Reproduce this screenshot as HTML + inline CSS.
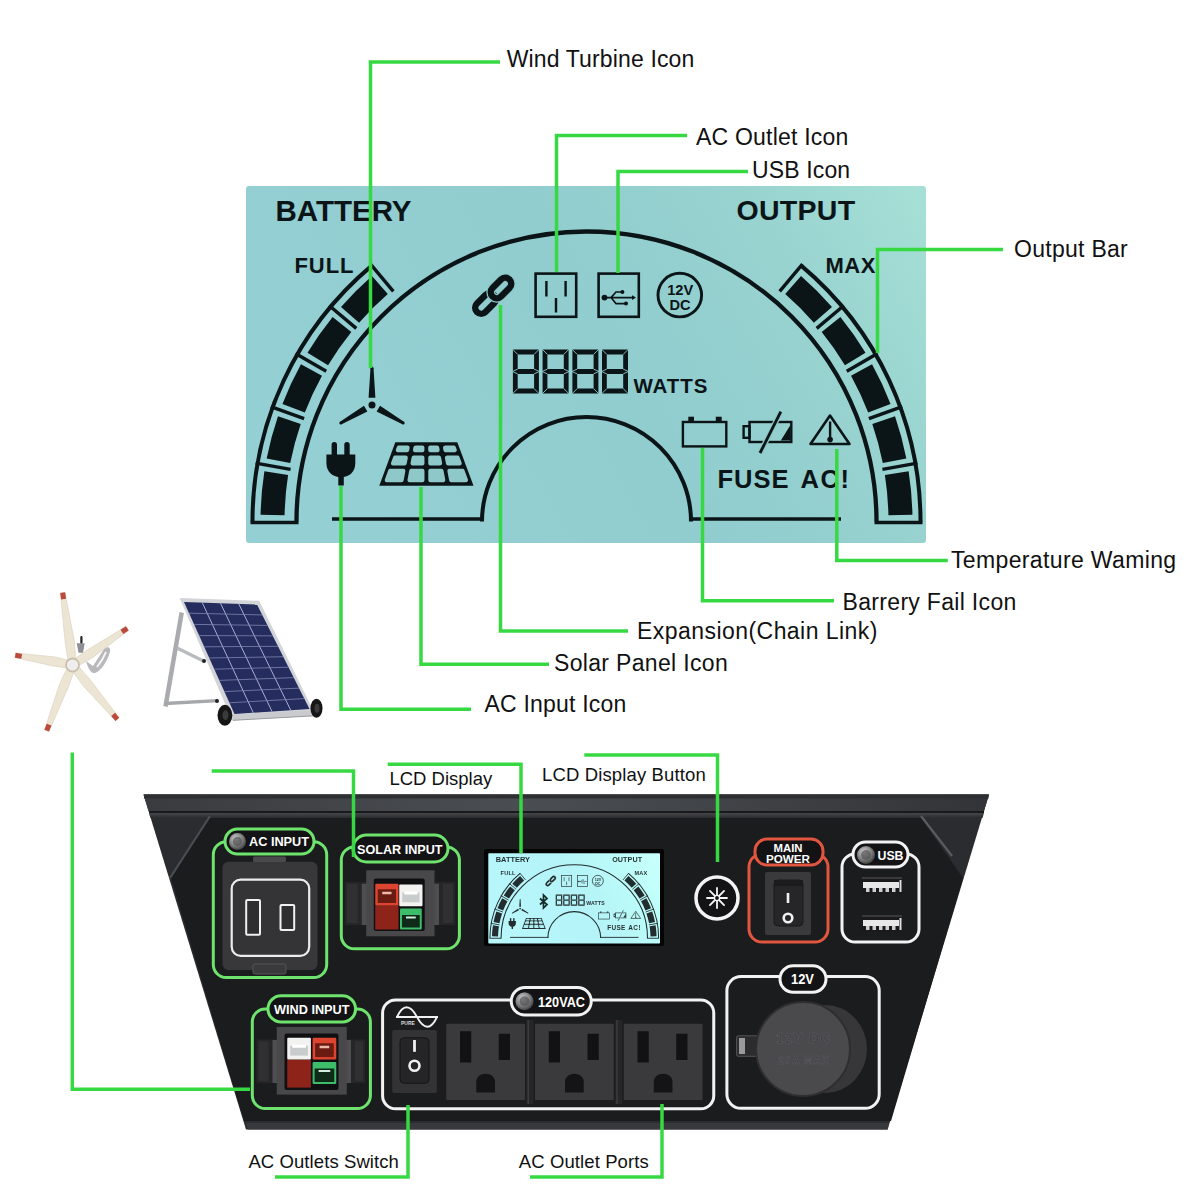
<!DOCTYPE html><html><head><meta charset="utf-8"><style>html,body{margin:0;padding:0;background:#fff;width:1200px;height:1200px;overflow:hidden}svg{display:block}</style></head><body><svg width="1200" height="1200" viewBox="0 0 1200 1200"><defs><g id="lcd"><linearGradient id="lcdg" x1="0" y1="0.3" x2="1" y2="0"><stop offset="0" stop-color="#94cfd3"/><stop offset="0.45" stop-color="#91cccf"/><stop offset="0.75" stop-color="#98d3d0"/><stop offset="1" stop-color="#a6e0d6"/></linearGradient><rect x="246" y="186" width="680" height="357" rx="3" fill="url(#lcdg)"/><g font-family='"Liberation Sans", sans-serif' font-weight="bold" fill="#0b1416"><text x="275.5" y="221" font-size="29.5">BATTERY</text><text x="736.5" y="219.5" font-size="28.5" letter-spacing="0.3">OUTPUT</text><text x="294.5" y="273.3" font-size="22" letter-spacing="0.9">FULL</text><text x="825.5" y="273.3" font-size="22" letter-spacing="0.5">MAX</text><text x="717.5" y="488.3" font-size="25.5" letter-spacing="1">FUSE</text><text x="800.5" y="488.3" font-size="25.5" letter-spacing="1.6">AC!</text><text x="633.5" y="392.5" font-size="20.5" letter-spacing="0.9">WATTS</text></g><path d="M296.5 521.5 A290 290 0 0 1 876.5 521.5" fill="none" stroke="#0b1416" stroke-width="4.3"/><path d="M482 521.5 A104.5 104.5 0 0 1 691 521.5" fill="none" stroke="#0b1416" stroke-width="4"/><path d="M332 519H484M690 519H841" stroke="#0b1416" stroke-width="3.6"/><path d="M252.5 521.5 A334 334 0 0 1 371.81 265.64" fill="none" stroke="#0b1416" stroke-width="4"/><path d="M250.5 522.5 L298.5 522.5" stroke="#0b1416" stroke-width="3.6"/><path d="M255.6 463.15 L290.57 469.32" stroke="#0b1416" stroke-width="3.4"/><path d="M270.76 406.58 L304.12 418.72" stroke="#0b1416" stroke-width="3.4"/><path d="M295.52 353.5 L326.26 371.25" stroke="#0b1416" stroke-width="3.4"/><path d="M329.11 305.52 L356.3 328.34" stroke="#0b1416" stroke-width="3.4"/><path d="M370.52 264.11 L393.34 291.3" stroke="#0b1416" stroke-width="3.4"/><path d="M260.57 514.67 A326 326 0 0 1 264.38 471.35 L288.1 475.04 A302 302 0 0 0 284.57 515.18Z" fill="#0b1416"/><path d="M266.65 458.46 A326 326 0 0 1 277.98 416.17 L300.7 423.93 A302 302 0 0 0 290.2 463.1Z" fill="#0b1416"/><path d="M282.46 403.88 A326 326 0 0 1 300.96 364.2 L321.98 375.78 A302 302 0 0 0 304.84 412.54Z" fill="#0b1416"/><path d="M307.5 352.87 A326 326 0 0 1 332.61 317.01 L351.31 332.06 A302 302 0 0 0 328.04 365.28Z" fill="#0b1416"/><path d="M341.03 306.98 A326 326 0 0 1 371.98 276.03 L387.77 294.1 A302 302 0 0 0 359.1 322.77Z" fill="#0b1416"/><path d="M920.5 521.5 A334 334 0 0 0 801.19 265.64" fill="none" stroke="#0b1416" stroke-width="4"/><path d="M922.5 522.5 L874.5 522.5" stroke="#0b1416" stroke-width="3.6"/><path d="M917.4 463.15 L882.43 469.32" stroke="#0b1416" stroke-width="3.4"/><path d="M902.24 406.58 L868.88 418.72" stroke="#0b1416" stroke-width="3.4"/><path d="M877.48 353.5 L846.74 371.25" stroke="#0b1416" stroke-width="3.4"/><path d="M843.89 305.52 L816.7 328.34" stroke="#0b1416" stroke-width="3.4"/><path d="M802.48 264.11 L779.66 291.3" stroke="#0b1416" stroke-width="3.4"/><path d="M912.43 514.67 A326 326 0 0 0 908.62 471.35 L884.9 475.04 A302 302 0 0 1 888.43 515.18Z" fill="#0b1416"/><path d="M906.35 458.46 A326 326 0 0 0 895.02 416.17 L872.3 423.93 A302 302 0 0 1 882.8 463.1Z" fill="#0b1416"/><path d="M890.54 403.88 A326 326 0 0 0 872.04 364.2 L851.02 375.78 A302 302 0 0 1 868.16 412.54Z" fill="#0b1416"/><path d="M865.5 352.87 A326 326 0 0 0 840.39 317.01 L821.69 332.06 A302 302 0 0 1 844.96 365.28Z" fill="#0b1416"/><path d="M831.97 306.98 A326 326 0 0 0 801.02 276.03 L785.23 294.1 A302 302 0 0 1 813.9 322.77Z" fill="#0b1416"/><g fill="#0b1416"><polygon points="375.4,397.7 373.5,368 370.5,368 368.6,397.7"/><circle cx="372" cy="368" r="1.5"/><polygon points="363.98,405.71 340.07,421.7 341.57,424.3 367.38,411.59"/><circle cx="340.82" cy="423" r="1.5"/><polygon points="376.62,411.59 402.43,424.3 403.93,421.7 380.02,405.71"/><circle cx="403.18" cy="423" r="1.5"/><circle cx="372" cy="405" r="3.5"/></g><g fill="#0b1416"><rect x="331.6" y="442" width="5.4" height="16" rx="2.7"/><rect x="344.3" y="442" width="5.4" height="16" rx="2.7"/><path d="M326.4 454.5H355.3V463C355.3 472 349 476.5 343.8 477V485.5H338.3V477C333 476.5 326.4 472 326.4 463Z"/></g><path d="M395.3 442.3H457.3L473.5 485.7H379.3Z" fill="#0b1416"/><g fill="#8ec8c9" stroke="#8ec8c9" stroke-width="4" stroke-linejoin="round"><polygon points="398.75,447.6 407.63,447.6 407.15,450.2 397.79,450.2"/><polygon points="415.43,447.6 422.41,447.6 422.42,450.2 414.95,450.2"/><polygon points="430.21,447.6 437.2,447.6 437.68,450.2 430.22,450.2"/><polygon points="445,447.6 453.88,447.6 454.85,450.2 445.48,450.2"/><polygon points="395.06,457.6 405.8,457.6 404.73,463.4 392.92,463.4"/><polygon points="413.6,457.6 422.44,457.6 422.45,463.4 412.53,463.4"/><polygon points="430.24,457.6 439.07,457.6 440.16,463.4 430.25,463.4"/><polygon points="446.87,457.6 457.61,457.6 459.78,463.4 447.96,463.4"/><polygon points="390.19,470.8 403.38,470.8 401.66,480.2 386.73,480.2"/><polygon points="411.18,470.8 422.47,470.8 422.49,480.2 409.46,480.2"/><polygon points="430.27,470.8 441.55,470.8 443.32,480.2 430.29,480.2"/><polygon points="449.35,470.8 462.54,470.8 466.05,480.2 451.12,480.2"/></g><g fill="none" transform="rotate(-45 495 294)"><rect x="469.5" y="288" width="24" height="12" rx="6" stroke="#0b1416" stroke-width="6.5"/><rect x="491.5" y="288" width="24" height="12" rx="6" stroke="#8ec8c9" stroke-width="9"/><rect x="491.5" y="288" width="24" height="12" rx="6" stroke="#0b1416" stroke-width="6.5"/></g><g fill="none" stroke="#0b1416"><rect x="535.6" y="273.6" width="40.6" height="43.2" stroke-width="2.6"/><path d="M546.4 281V296.5M565.6 281V296.5M556 298V312.5" stroke-width="2.4"/><rect x="598.6" y="273.6" width="40.2" height="43.2" stroke-width="2.6"/><circle cx="679.8" cy="295.1" r="21.8" stroke-width="2.9"/></g><g stroke="#0b1416" fill="none" stroke-width="1.6"><path d="M604 297.6H633M611 297.6L616 292H621M611 297.6L616 303.6H625"/></g><g fill="#0b1416"><circle cx="604.5" cy="297.6" r="2.9"/><circle cx="622.4" cy="292" r="2"/><circle cx="626" cy="303.6" r="2"/><path d="M636 297.6L632 295.2V300Z"/></g><g font-family='"Liberation Sans", sans-serif' font-weight="bold" fill="#0b1416" font-size="14.6" text-anchor="middle"><text x="680.2" y="295.4">12V</text><text x="680" y="310.4">DC</text></g><path d="M515.3 352H536.5V391H515.3ZM515.3 371.5H536.5" fill="none" stroke="#0b1416" stroke-width="4.8"/><path d="M512.4 349.1L517.7 354.4M539.4 349.1L534.1 354.4M512.4 393.9L517.7 388.6M539.4 393.9L534.1 388.6M512.4 371.5L517.7 369.1M512.4 371.5L517.7 373.9M539.4 371.5L534.1 369.1M539.4 371.5L534.1 373.9" stroke="#8ec8c9" stroke-width="0.9"/><path d="M545 352H566.2V391H545ZM545 371.5H566.2" fill="none" stroke="#0b1416" stroke-width="4.8"/><path d="M542.1 349.1L547.4 354.4M569.1 349.1L563.8 354.4M542.1 393.9L547.4 388.6M569.1 393.9L563.8 388.6M542.1 371.5L547.4 369.1M542.1 371.5L547.4 373.9M569.1 371.5L563.8 369.1M569.1 371.5L563.8 373.9" stroke="#8ec8c9" stroke-width="0.9"/><path d="M574.8 352H596V391H574.8ZM574.8 371.5H596" fill="none" stroke="#0b1416" stroke-width="4.8"/><path d="M571.9 349.1L577.2 354.4M598.9 349.1L593.6 354.4M571.9 393.9L577.2 388.6M598.9 393.9L593.6 388.6M571.9 371.5L577.2 369.1M571.9 371.5L577.2 373.9M598.9 371.5L593.6 369.1M598.9 371.5L593.6 373.9" stroke="#8ec8c9" stroke-width="0.9"/><path d="M604.4 352H625.6V391H604.4ZM604.4 371.5H625.6" fill="none" stroke="#0b1416" stroke-width="4.8"/><path d="M601.5 349.1L606.8 354.4M628.5 349.1L623.2 354.4M601.5 393.9L606.8 388.6M628.5 393.9L623.2 388.6M601.5 371.5L606.8 369.1M601.5 371.5L606.8 373.9M628.5 371.5L623.2 369.1M628.5 371.5L623.2 373.9" stroke="#8ec8c9" stroke-width="0.9"/><g fill="none" stroke="#0b1416" stroke-width="2.4"><rect x="682.9" y="422" width="43.4" height="24.4"/><rect x="749.5" y="422" width="41.8" height="20"/><rect x="743.6" y="426.2" width="5.9" height="11.6"/></g><g fill="#0b1416"><rect x="688.3" y="416.7" width="5.7" height="4.6"/><rect x="715.8" y="416.7" width="5.9" height="4.6"/><path d="M780.8 440.6L790.3 425.2V440.6Z"/></g><path d="M780.8 411.7L760 453" stroke="#8ec8c9" stroke-width="5.5"/><path d="M780.8 411.7L760 453" stroke="#0b1416" stroke-width="2.8"/><path d="M830 415.6L849.5 444H810.5Z" fill="none" stroke="#0b1416" stroke-width="2.6" stroke-linejoin="round"/><g fill="#0b1416"><rect x="828.9" y="421.5" width="2.4" height="16"/><circle cx="830.1" cy="439.6" r="2.8"/></g></g><radialGradient id="screw" cx="0.4" cy="0.35" r="0.7"><stop offset="0" stop-color="#d8d8d8"/><stop offset="0.5" stop-color="#8a8a8a"/><stop offset="1" stop-color="#3a3a3a"/></radialGradient><filter id="bright" color-interpolation-filters="sRGB"><feColorMatrix type="matrix" values="1.08 0 0 0 0.09  0 1.08 0 0 0.09  0 0 1.08 0 0.09  0 0 0 1 0"/></filter></defs><rect width="1200" height="1200" fill="#fff"/><use href="#lcd"/><path d="M86 661C88 668 91 674 95 673C101 671 107 662 110 652C111 647 108 646 104 649L93 666Z" fill="#b9b9bd"/><path d="M97 667C101 662 104 657 106 652" stroke="#f6f6f6" stroke-width="2" fill="none"/><polygon points="76.7,643.3 84.7,643.3 83,652.7 78.5,652.7" fill="#8f9094"/><rect x="80.3" y="636" width="2.2" height="7.5" rx="1" fill="#222"/><polygon fill="#ece5d3" stroke="#dcd3c0" stroke-width="0.7" stroke-linejoin="round" points="75.73,660.53 74.32,641.19 64.98,592.39 60.42,593.01 65.2,642.43 68.2,661.55"/><path d="M63.57 599.14L62.7 592.7" stroke="#bb4a3d" stroke-width="5"/><polygon fill="#ece5d3" stroke="#dcd3c0" stroke-width="0.7" stroke-linejoin="round" points="77.94,665.93 92.82,657.41 128.58,630.21 126.02,626.39 87.7,649.77 73.71,659.62"/><path d="M121.9 631.92L127.3 628.3" stroke="#bb4a3d" stroke-width="5"/><polygon fill="#ece5d3" stroke="#dcd3c0" stroke-width="0.7" stroke-linejoin="round" points="72.11,670.5 82.98,685.56 115.53,720.76 119.07,717.84 90.08,679.7 77.98,665.67"/><path d="M113.16 714.29L117.3 719.3" stroke="#bb4a3d" stroke-width="5"/><polygon fill="#ece5d3" stroke="#dcd3c0" stroke-width="0.7" stroke-linejoin="round" points="67.5,667.33 59.59,684.2 44.56,729.86 48.84,731.54 68.15,687.56 74.57,670.11"/><path d="M49.08 724.65L46.7 730.7" stroke="#bb4a3d" stroke-width="5"/><polygon fill="#ece5d3" stroke="#dcd3c0" stroke-width="0.7" stroke-linejoin="round" points="69.19,660.58 55.03,656.97 15.68,653.03 14.92,657.57 53.49,666.04 67.92,668.08"/><path d="M21.71 656.39L15.3 655.3" stroke="#bb4a3d" stroke-width="5"/><circle cx="72.5" cy="665" r="6.5" fill="#eeeeef" stroke="#c9c0ae" stroke-width="1.8"/><path d="M181.7 612.5L165.5 706.5" stroke="#a9abae" stroke-width="4.5"/><path d="M165 703.5L217.9 700.6" stroke="#a5a7aa" stroke-width="3.4"/><path d="M177.5 648.3L205 661.7" stroke="#b9bbbe" stroke-width="3.4"/><circle cx="204" cy="661" r="2" fill="#222"/><circle cx="217" cy="701" r="2" fill="#222"/><polygon points="179.6,597.9 259.2,600.8 313.9,711.7 232.3,720.5" fill="#d2d4d8"/><polygon points="184,602 257,604.5 309.5,709 234.5,714" fill="#252c5e"/><path d="M232.3 717.5L314.5 713" stroke="#c9cbcf" stroke-width="6"/><path d="M233 720.3L314 715.8" stroke="#9a9ca0" stroke-width="1"/><path d="M202.25 602.62L253.25 712.75M220.5 603.25L272 711.5M238.75 603.88L290.75 710.25" stroke="#aab0d2" stroke-width="1"/><path d="M189.05 613.2L262.25 614.95M194.1 624.4L267.5 625.4M199.15 635.6L272.75 635.85M204.2 646.8L278 646.3M209.25 658L283.25 656.75M214.3 669.2L288.5 667.2M219.35 680.4L293.75 677.65M224.4 691.6L299 688.1M229.45 702.8L304.25 698.55" stroke="#7e86b0" stroke-width="0.8"/><ellipse cx="224.9" cy="715.3" rx="7.4" ry="10.5" fill="#161616"/><ellipse cx="225.5" cy="715.3" rx="3" ry="5" fill="#3a3a3a"/><ellipse cx="316.5" cy="708.2" rx="6" ry="9.5" fill="#161616"/><ellipse cx="317" cy="708.2" rx="2.5" ry="4.5" fill="#3a3a3a"/><polygon points="143.5,794.5 989,794.5 887.6,1129.5 246,1129.5" fill="#2b2c30"/><linearGradient id="topband" x1="0" y1="0" x2="1" y2="0"><stop offset="0" stop-color="#3a3b3f"/><stop offset="0.45" stop-color="#4a4e52"/><stop offset="1" stop-color="#333438"/></linearGradient><polygon points="143.5,794.5 989,794.5 984,811 148.5,811" fill="url(#topband)"/><path d="M144 796.5H988.5" stroke="#2e2f32" stroke-width="4"/><path d="M149 812H984" stroke="#1a1a1e" stroke-width="2"/><linearGradient id="bandg" x1="0" y1="0" x2="0" y2="1"><stop offset="0" stop-color="#46474a"/><stop offset="1" stop-color="#2a2b2e"/></linearGradient><polygon points="149,813 984,813 982.5,818 150.5,818" fill="url(#bandg)"/><polygon points="210,818 921,818 963,878 891,1121 244,1121 171,878" fill="#1b1c1e"/><path d="M210 816L170 878" stroke="#505155" stroke-width="2.2" opacity="0.9"/><path d="M921 816L952 856" stroke="#5a5b5f" stroke-width="2.2"/><polygon points="246,1123 889,1123 887.6,1129.5 248,1129.5" fill="#38393c"/><rect x="213.3" y="841.7" width="113.4" height="135.8" rx="13" fill="none" stroke="#6ee46e" stroke-width="3"/><rect x="225" y="829" width="89" height="25" rx="12.5" fill="#131315" stroke="#6ee46e" stroke-width="3"/><circle cx="237.5" cy="841.5" r="8.5" fill="url(#screw)"/><circle cx="237.5" cy="841.5" r="4.675000000000001" fill="#505052" opacity="0.7"/><text x="249" y="846" font-family='"Liberation Sans", sans-serif' font-weight="bold" font-size="13.5" fill="#fff" textLength="60" lengthAdjust="spacingAndGlyphs">AC INPUT</text><rect x="222.5" y="861.7" width="95" height="108.3" rx="6" fill="#38383a"/><rect x="253" y="856.5" width="33" height="5.5" rx="1.5" fill="#4a4a4c"/><rect x="253" y="964" width="33" height="10" rx="2" fill="#3a3a3c" stroke="#555" stroke-width="1"/><rect x="231.7" y="879.7" width="77.5" height="76.1" rx="9" fill="#343436" stroke="#ececec" stroke-width="2.2"/><rect x="246.2" y="900" width="13.8" height="34.7" rx="1" fill="#2e2e30" stroke="#f0f0f0" stroke-width="2"/><rect x="280.5" y="905" width="13.7" height="25" rx="1" fill="#2e2e30" stroke="#f0f0f0" stroke-width="2"/><rect x="341.3" y="846.9" width="118.1" height="101.9" rx="13" fill="none" stroke="#6ee46e" stroke-width="3"/><rect x="353" y="835" width="95" height="27" rx="13.5" fill="#131315" stroke="#6ee46e" stroke-width="3"/><text x="357" y="853.9" font-family='"Liberation Sans", sans-serif' font-weight="bold" font-size="13.5" fill="#fff" textLength="85.5" lengthAdjust="spacingAndGlyphs">SOLAR INPUT</text><rect x="345" y="882" width="110" height="43" fill="#262628"/><rect x="347" y="884" width="10.75" height="39" fill="#303032"/><rect x="443" y="884" width="10" height="39" fill="#303032"/><rect x="361.75" y="883.75" width="77.25" height="41.25" fill="#4e4e51"/><rect x="366.25" y="870.25" width="68.25" height="66" fill="#48484b"/><rect x="373.75" y="878.5" width="51" height="52.5" rx="2" fill="#101012"/><rect x="375.25" y="905.5" width="23.25" height="24" fill="#8e2419"/><rect x="375.25" y="883.75" width="23.25" height="21.75" rx="1" fill="#dd4530"/><rect x="377.75" y="889.25" width="18.25" height="13.75" fill="#6a1c12"/><rect x="382.25" y="891.75" width="9.25" height="2.5" fill="#f0b8a8"/><rect x="399.25" y="884.5" width="23.25" height="21.75" rx="1" fill="#f2f2f0"/><rect x="402.25" y="892.5" width="17.25" height="9.75" fill="#c9cccc"/><rect x="404.25" y="891.5" width="13.25" height="3" fill="#ffffff"/><rect x="400" y="908.5" width="21.75" height="21" rx="1" fill="#3dbd6a"/><rect x="402" y="915" width="17.75" height="12.5" fill="#0f2a18"/><rect x="406" y="916.5" width="9.75" height="2" fill="#cfeedd"/><rect x="484" y="849" width="180" height="97" rx="2" fill="#050506"/><g transform="translate(488.3 853.3) scale(0.2525) translate(-246 -186)"><use href="#lcd" filter="url(#bright)"/></g><path d="M540 898.5L547 904.5L543.5 908V895L547 898.5L540 904.5" fill="none" stroke="#15282a" stroke-width="1.7"/><circle cx="717" cy="898" r="21" fill="#131315" stroke="#f4f4f4" stroke-width="3.5"/><path d="M720.2 898L727 898M719.26 900.26L724.07 905.07M717 901.2L717 908M714.74 900.26L709.93 905.07M713.8 898L707 898M714.74 895.74L709.93 890.93M717 894.8L717 888M719.26 895.74L724.07 890.93" stroke="#f4f4f4" stroke-width="1.8" stroke-linecap="round"/><circle cx="717" cy="898" r="2.6" fill="none" stroke="#f4f4f4" stroke-width="1.3"/><rect x="749" y="854" width="79" height="88" rx="13" fill="none" stroke="#e2553f" stroke-width="3"/><rect x="755" y="839" width="68" height="26" rx="12" fill="#131315" stroke="#e2553f" stroke-width="3"/><g font-family='"Liberation Sans", sans-serif' font-weight="bold" fill="#fff" font-size="11.5" text-anchor="middle"><text x="788" y="851.5" textLength="29" lengthAdjust="spacingAndGlyphs">MAIN</text><text x="788" y="862.5" textLength="44" lengthAdjust="spacingAndGlyphs">POWER</text></g><rect x="765" y="872" width="46" height="63" rx="2" fill="#3a3a3c"/><rect x="774" y="880" width="29" height="46" rx="4" fill="#262628" stroke="#18181a" stroke-width="1"/><rect x="774" y="880" width="29" height="6" fill="#1b1b1d"/><path d="M788 893V903" stroke="#f0f0f0" stroke-width="2.6"/><circle cx="788" cy="918" r="4.3" fill="none" stroke="#f0f0f0" stroke-width="2.6"/><rect x="842" y="854" width="77" height="88" rx="13" fill="none" stroke="#f2f2f2" stroke-width="3"/><rect x="853" y="842" width="55" height="25" rx="12.5" fill="#131315" stroke="#f2f2f2" stroke-width="3"/><circle cx="866" cy="855" r="9" fill="url(#screw)"/><circle cx="866" cy="855" r="4.95" fill="#505052" opacity="0.7"/><text x="877.5" y="859.5" font-family='"Liberation Sans", sans-serif' font-weight="bold" font-size="13.5" fill="#fff" textLength="26" lengthAdjust="spacingAndGlyphs">USB</text><rect x="862" y="877" width="40" height="17" rx="1" fill="#1a1a1c"/><rect x="863" y="882" width="36" height="6" fill="#e8e8e8"/><rect x="866.0" y="888" width="3.5" height="4" fill="#cfcfcf"/><rect x="872.5" y="888" width="3.5" height="4" fill="#cfcfcf"/><rect x="879.0" y="888" width="3.5" height="4" fill="#cfcfcf"/><rect x="885.5" y="888" width="3.5" height="4" fill="#cfcfcf"/><rect x="892.0" y="888" width="3.5" height="4" fill="#cfcfcf"/><rect x="899.5" y="880" width="2" height="12" fill="#dcdcdc"/><rect x="862" y="877" width="40" height="2" fill="#3a3a3c"/><rect x="862" y="915" width="40" height="17" rx="1" fill="#1a1a1c"/><rect x="863" y="920" width="36" height="6" fill="#e8e8e8"/><rect x="866.0" y="926" width="3.5" height="4" fill="#cfcfcf"/><rect x="872.5" y="926" width="3.5" height="4" fill="#cfcfcf"/><rect x="879.0" y="926" width="3.5" height="4" fill="#cfcfcf"/><rect x="885.5" y="926" width="3.5" height="4" fill="#cfcfcf"/><rect x="892.0" y="926" width="3.5" height="4" fill="#cfcfcf"/><rect x="899.5" y="918" width="2" height="12" fill="#dcdcdc"/><rect x="862" y="915" width="40" height="2" fill="#3a3a3c"/><rect x="252.3" y="1008.9" width="118.1" height="99.7" rx="13" fill="none" stroke="#6ee46e" stroke-width="3"/><rect x="268" y="995.75" width="87.5" height="26.25" rx="13.12" fill="#131315" stroke="#6ee46e" stroke-width="3"/><text x="274" y="1013.8" font-family='"Liberation Sans", sans-serif' font-weight="bold" font-size="13.5" fill="#fff" textLength="75.5" lengthAdjust="spacingAndGlyphs">WIND INPUT</text><rect x="256.6" y="1039.5" width="108.4" height="43.5" fill="#262628"/><rect x="258.6" y="1041.5" width="9.9" height="39.5" fill="#303032"/><rect x="355" y="1041.5" width="8" height="39.5" fill="#303032"/><rect x="272.5" y="1040" width="78.5" height="43" fill="#4e4e51"/><rect x="276.75" y="1027" width="70" height="67.6" fill="#48484b"/><rect x="284.5" y="1033.5" width="54" height="56.5" rx="2" fill="#101012"/><rect x="287.25" y="1059.6" width="23.65" height="28" fill="#8e2419"/><rect x="312.6" y="1037.75" width="23.65" height="21.85" rx="1" fill="#dd4530"/><rect x="315.1" y="1043.25" width="18.65" height="13.85" fill="#6a1c12"/><rect x="319.6" y="1045.75" width="9.65" height="2.5" fill="#f0b8a8"/><rect x="287.25" y="1037.75" width="23.65" height="21.85" rx="1" fill="#f2f2f0"/><rect x="290.25" y="1045.75" width="17.65" height="9.85" fill="#c9cccc"/><rect x="292.25" y="1044.75" width="13.65" height="3" fill="#ffffff"/><rect x="312.6" y="1062" width="23.65" height="22" rx="1" fill="#3dbd6a"/><rect x="314.6" y="1068.5" width="19.65" height="13.5" fill="#0f2a18"/><rect x="318.6" y="1070" width="11.65" height="2" fill="#cfeedd"/><rect x="382.6" y="1000" width="331.15" height="108.75" rx="13" fill="none" stroke="#f2f2f2" stroke-width="3"/><rect x="511.25" y="987.5" width="80" height="27.5" rx="13.75" fill="#131315" stroke="#f2f2f2" stroke-width="3"/><circle cx="524.5" cy="1001.25" r="9" fill="url(#screw)"/><circle cx="524.5" cy="1001.25" r="5" fill="#505052" opacity="0.7"/><text x="538" y="1006.5" font-family='"Liberation Sans", sans-serif' font-weight="bold" font-size="14" fill="#fff" textLength="47" lengthAdjust="spacingAndGlyphs">120VAC</text><path d="M396 1017H438M397 1017C403 1004 410 1004 417 1017S431 1030 437 1017" fill="none" stroke="#f0f0f0" stroke-width="1.8"/><text x="401" y="1024.5" font-family='"Liberation Sans", sans-serif' font-weight="bold" font-size="5" fill="#ddd">PURE</text><rect x="392.25" y="1029.9" width="44.65" height="63" rx="2" fill="#333335"/><rect x="400" y="1037.75" width="29" height="45.5" rx="4" fill="#252527" stroke="#151517" stroke-width="1"/><path d="M414.5 1040V1051.8" stroke="#f0f0f0" stroke-width="2.8"/><circle cx="414.5" cy="1065.75" r="5" fill="none" stroke="#f0f0f0" stroke-width="2.6"/><rect x="438" y="1022" width="270" height="80" fill="#1c1c1e"/><rect x="446.25" y="1023.75" width="78.75" height="76.25" rx="1" fill="#3a3a3c"/><rect x="460" y="1031.25" width="11.25" height="31.25" fill="#121214"/><rect x="498.75" y="1033.75" width="11.25" height="26.25" fill="#121214"/><path d="M476.25 1092.5V1082C476.25 1071 495 1071 495 1082V1092.5Z" fill="#141416"/><rect x="535" y="1023.75" width="78.75" height="76.25" rx="1" fill="#3a3a3c"/><rect x="548.75" y="1031.25" width="11.25" height="31.25" fill="#121214"/><rect x="587.5" y="1033.75" width="11.25" height="26.25" fill="#121214"/><path d="M565 1092.5V1082C565 1071 583.75 1071 583.75 1082V1092.5Z" fill="#141416"/><rect x="623.75" y="1023.75" width="78.75" height="76.25" rx="1" fill="#3a3a3c"/><rect x="637.5" y="1031.25" width="11.25" height="31.25" fill="#121214"/><rect x="676.25" y="1033.75" width="11.25" height="26.25" fill="#121214"/><path d="M653.75 1092.5V1082C653.75 1071 672.5 1071 672.5 1082V1092.5Z" fill="#141416"/><rect x="526.5" y="1020" width="7" height="84" fill="#262628"/><rect x="527.5" y="1020" width="1.5" height="84" fill="#3c3c3e"/><rect x="615.25" y="1020" width="7" height="84" fill="#262628"/><rect x="616.25" y="1020" width="1.5" height="84" fill="#3c3c3e"/><rect x="726.9" y="976.6" width="152.3" height="131.7" rx="14" fill="none" stroke="#f2f2f2" stroke-width="3"/><rect x="780" y="965.7" width="46" height="26.6" rx="13.3" fill="#131315" stroke="#f2f2f2" stroke-width="3"/><text x="791" y="984" font-family='"Liberation Sans", sans-serif' font-weight="bold" font-size="14" fill="#fff" textLength="23" lengthAdjust="spacingAndGlyphs">12V</text><ellipse cx="825" cy="1049" rx="42" ry="44" fill="#37373a"/><rect x="736.6" y="1035.8" width="23.4" height="20.5" rx="1.5" fill="#2c2c2e" stroke="#555" stroke-width="1"/><rect x="739" y="1038" width="6" height="16" fill="#9a9a9a"/><circle cx="803" cy="1049" r="47" fill="#4a4a4d" stroke="#2e2e31" stroke-width="2"/><g font-family='"Liberation Sans", sans-serif' font-weight="bold" fill="#3e3e41" stroke="#606064" stroke-width="0.5"><text x="776" y="1043" font-size="14" letter-spacing="1">12V DC</text><text x="778" y="1064" font-size="10.5" letter-spacing="1">20A MAX</text></g><g fill="none" stroke="#37d942" stroke-width="3.5" stroke-linejoin="miter"><path d="M500 62H370.5V368"/><path d="M687 135.5H556.5V272"/><path d="M748 171.5H618V273"/><path d="M1003 249.5H877.5V353"/><path d="M836.8 449V560.4H947.8"/><path d="M702.5 448V600.7H834"/><path d="M500.5 305V631H628"/><path d="M421 487V664.2H549"/><path d="M341 486V709.2H471"/><path d="M72.3 752.5V1089.2H250"/><path d="M211.7 771H353.5V857"/><path d="M387.7 764.3H521V853"/><path d="M584.3 755H717.5V862"/><path d="M408 1105V1177H275"/><path d="M662 1104V1177H530"/></g><g font-family='"Liberation Sans", sans-serif' fill="#111" font-size="23"><text x="506.7" y="66.9" letter-spacing="0.14">Wind Turbine Icon</text><text x="696" y="145.2" letter-spacing="0.21">AC Outlet Icon</text><text x="752" y="177.5" letter-spacing="0.14">USB Icon</text><text x="1014" y="256.7" letter-spacing="0.28">Output Bar</text><text x="951" y="568.4" letter-spacing="0.36">Temperature Waming</text><text x="842.6" y="609.5" letter-spacing="0.31">Barrery Fail Icon</text><text x="637" y="639.2" letter-spacing="0.45">Expansion(Chain Link)</text><text x="554" y="671" letter-spacing="0.33">Solar Panel Icon</text><text x="484.4" y="712" letter-spacing="0.22">AC Input Icon</text></g><g font-family='"Liberation Sans", sans-serif' fill="#111" font-size="18.5"><text x="389.4" y="785" letter-spacing="0">LCD Display</text><text x="542" y="780.7" letter-spacing="0.135">LCD Display Button</text><text x="248.4" y="1167.8" letter-spacing="0.09">AC Outlets Switch</text><text x="518.8" y="1168" letter-spacing="0.1">AC Outlet Ports</text></g></svg></body></html>
